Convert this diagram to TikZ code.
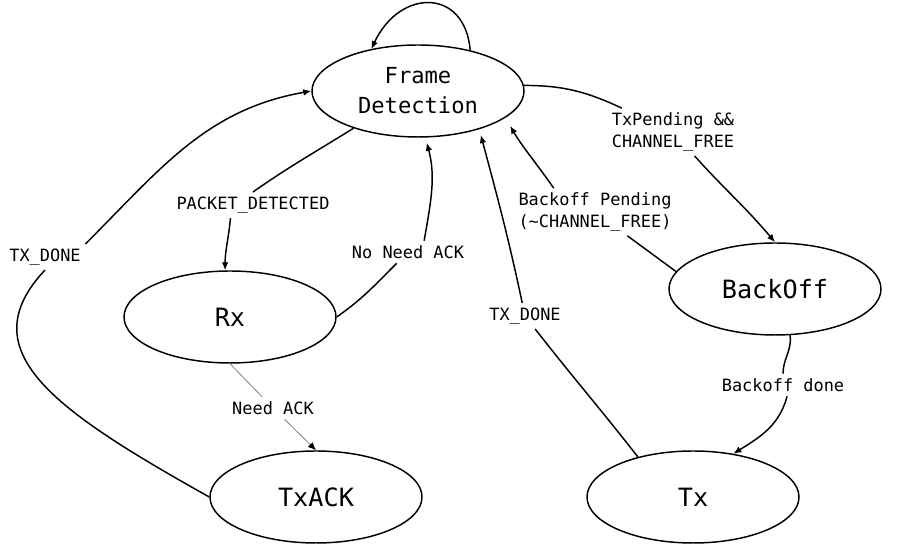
\documentclass[tikz,border=0pt]{standalone}
\usepackage{fontspec}
\setmonofont{DejaVu Sans Mono}
\usetikzlibrary{arrows.meta,shapes.geometric}

\begin{document}
\begin{tikzpicture}[x=0.75pt,y=0.75pt,line width=1.1pt,>={Latex[length=6pt,width=5pt]}]
    \tikzset{st/.style={ellipse,draw,minimum width=159pt,minimum height=69pt,align=center,
      font=\ttfamily\fontsize{18.9}{22}\selectfont},
      lb/.style={align=center,inner sep=3pt,font=\ttfamily\fontsize{12.7}{16}\selectfont}}
    \useasboundingbox (0,0) rectangle (904,552);
    \node[st,font=\ttfamily\fontsize{16.6}{22.5}\selectfont] (fd) at (418,461) {Frame\\Detection};
    \node[st] (rx) at (230,235) {Rx};
    \node[st] (txack) at (316,55) {TxACK};
    \node[st] (bo) at (775,263) {BackOff};
    \node[st] (tx) at (693,55) {Tx};
    \node[lb] (lpend) at (673,420) {TxPending \&\&\\CHANNEL\_FREE};
    \node[lb] (lbp) at (595,340) {Backoff Pending\\(\textasciitilde CHANNEL\_FREE)};
    \node[lb] (ltxd2) at (525,236) {TX\_DONE};
    \node[lb] (lbd) at (783,167) {Backoff done};
    \node[lb] (lpd) at (253,347) {PACKET\_DETECTED};
    \node[lb] (lnna) at (408,300) {No Need ACK};
    \node[lb] (lna) at (273,144) {Need ACK};
    \node[lb] (ltxd1) at (45,295) {TX\_DONE};
    \draw[->] (fd.38) .. controls (465,564) and (400,564) .. (fd.138);
    \draw (fd.3) to[out=0,in=155] (lpend);
    \draw[->] (lpend) to[out=-48,in=130] (bo.north);
    \draw (bo.170) -- (lbp);
    \draw[->,shorten >=7pt] (lbp.150) to[out=125,in=-60] (fd.-17);
    \draw (tx.144) to[out=128,in=-52] (ltxd2);
    \draw[->,shorten >=4.5pt] (ltxd2) to[out=102,in=-75] (fd.-32);
    \draw (bo.-72) to[out=-82,in=90] (lbd);
    \draw[->] (lbd.-70) to[out=-105,in=32] (tx.47);
    \draw (fd.210) to[out=212,in=35] (lpd.north);
    \draw[->] (lpd.-150) to[out=-95,in=90] (rx.96);
    \draw (rx.east) to[out=35,in=-135] (lnna);
    \draw[->,shorten >=4pt] (lnna.35) to[out=80,in=-75] (fd.-81);
    \draw[gray,line width=0.6pt] (rx.south) -- (lna);
    \draw[gray,line width=0.6pt,-{Latex[length=6pt,width=5pt,black]}] (lna) -- (txack.north);
    \draw (txack.west) .. controls (54,142) and (-31,201) .. (ltxd1.south);
    \draw[->] (ltxd1.north east) to[out=45,in=190] (fd.180);
  \end{tikzpicture}
\end{document}
